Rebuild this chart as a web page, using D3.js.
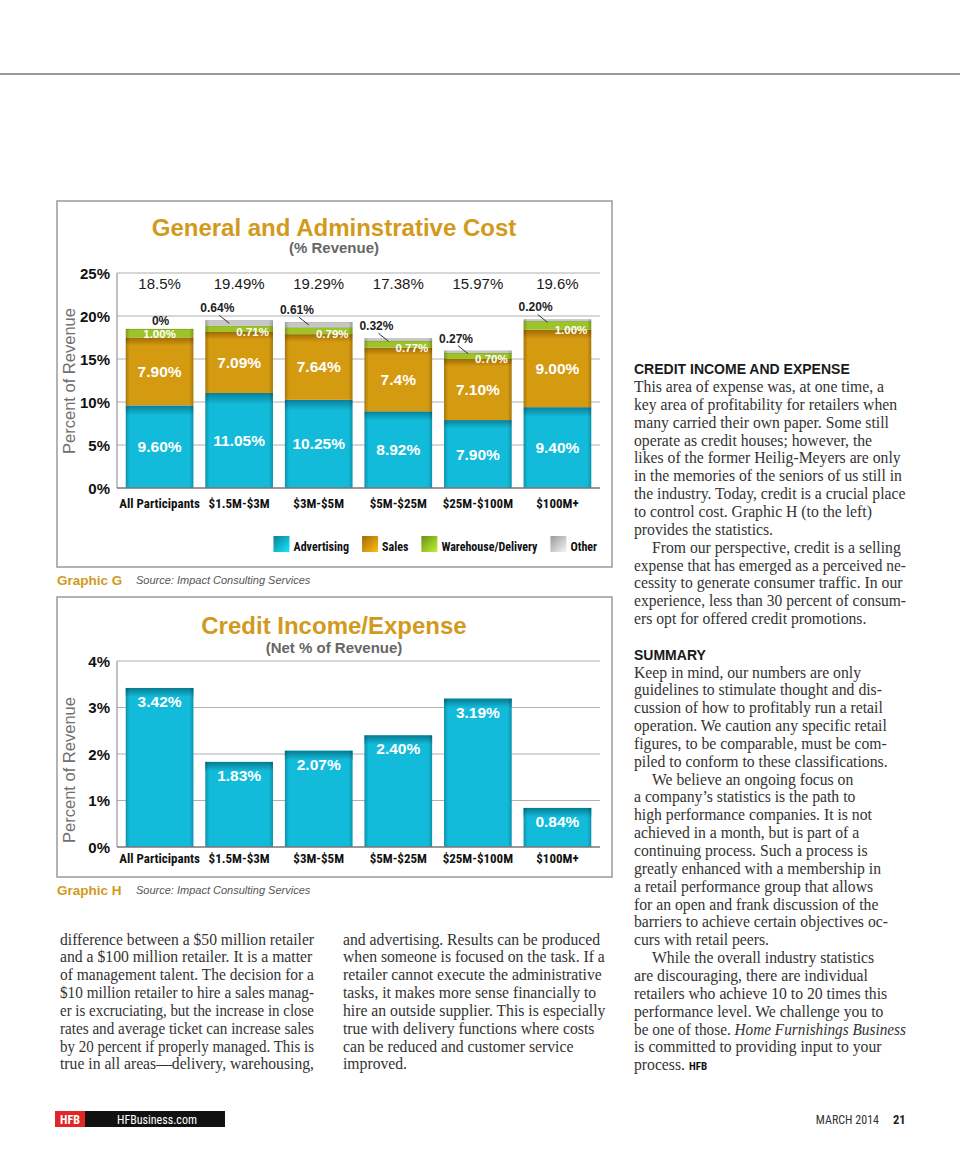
<!DOCTYPE html>
<html><head><meta charset="utf-8">
<script src="https://cdn.jsdelivr.net/npm/d3@7"></script>
<style>body{margin:0;background:#fff}svg{display:block}</style>
</head><body>
<script>
// ---------- DATA ----------
const categories = ["All Participants","$1.5M-$3M","$3M-$5M","$5M-$25M","$25M-$100M","$100M+"];
const seriesNames = ["Advertising","Sales","Warehouse/Delivery","Other"];
const advertising = [9.60, 11.05, 10.25, 8.92, 7.90, 9.40];
const sales       = [7.90, 7.09, 7.64, 7.4, 7.10, 9.00];
const warehouse   = [1.00, 0.71, 0.79, 0.77, 0.70, 1.00];
const other       = [0, 0.64, 0.61, 0.32, 0.27, 0.20];
const totals      = [18.5, 19.49, 19.29, 17.38, 15.97, 19.6];
const advLabels   = ["9.60%","11.05%","10.25%","8.92%","7.90%","9.40%"];
const salesLabels = ["7.90%","7.09%","7.64%","7.4%","7.10%","9.00%"];
const whLabels    = ["1.00%","0.71%","0.79%","0.77%","0.70%","1.00%"];
const otherLabels = ["0%","0.64%","0.61%","0.32%","0.27%","0.20%"];
const totalLabels = ["18.5%","19.49%","19.29%","17.38%","15.97%","19.6%"];
const gTicks = [0,5,10,15,20,25];
const credit = [3.42, 1.83, 2.07, 2.40, 3.19, 0.84];
const creditLabels = ["3.42%","1.83%","2.07%","2.40%","3.19%","0.84%"];
const hTicks = [0,1,2,3,4];

// ---------- TEXT ----------
const col1Lines = ["difference between a $50 million retailer","and a $100 million retailer. It is a matter","of management talent. The decision for a","$10 million retailer to hire a sales manag-","er is excruciating, but the increase in close","rates and average ticket can increase sales","by 20 percent if properly managed. This is","true in all areas\u2014delivery, warehousing,"];
const col2Lines = ["and advertising. Results can be produced","when someone is focused on the task. If a","retailer cannot execute the administrative","tasks, it makes more sense financially to","hire an outside supplier. This is especially","true with delivery functions where costs","can be reduced and customer service","improved."];
const creditLines = ["This area of expense was, at one time, a","key area of profitability for retailers when","many carried their own paper. Some still","operate as credit houses; however, the","likes of the former Heilig-Meyers are only","in the memories of the seniors of us still in","the industry. Today, credit is a crucial place","to control cost. Graphic H (to the left)","provides the statistics.","\tFrom our perspective, credit is a selling","expense that has emerged as a perceived ne-","cessity to generate consumer traffic. In our","experience, less than 30 percent of consum-","ers opt for offered credit promotions."];
const summaryLines = ["Keep in mind, our numbers are only","guidelines to stimulate thought and dis-","cussion of how to profitably run a retail","operation. We caution any specific retail","figures, to be comparable, must be com-","piled to conform to these classifications.","\tWe believe an ongoing focus on","a company\u2019s statistics is the path to","high performance companies. It is not","achieved in a month, but is part of a","continuing process. Such a process is","greatly enhanced with a membership in","a retail performance group that allows","for an open and frank discussion of the","barriers to achieve certain objectives oc-","curs with retail peers.","\tWhile the overall industry statistics","are discouraging, there are individual","retailers who achieve 10 to 20 times this","performance level. We challenge you to",[["be one of those. ",""],["Home Furnishings Business","italic"]],"is committed to providing input to your",[["process. ",""],["HFB","hfb"]]];

const SANS = "Arial, 'Liberation Sans', sans-serif";
const NARROW = "'Liberation Sans Narrow', 'Arial Narrow', 'Roboto Condensed', sans-serif";
const SERIF = "'Liberation Serif', 'Times New Roman', serif";
const GOLD = "#d29a1c";

const svg = d3.select("body").append("svg").attr("width",960).attr("height",1165);
const defs = svg.append("defs");

const colors = {
  Advertising: ["#0a8097","#12bbda"],
  Sales: ["#a06a06","#d49a10"],
  "Warehouse/Delivery": ["#6a9214","#9dc329"],
  Other: ["#999999","#c6c6c6"]
};
const gid = n => "g" + n.replace(/[^A-Za-z]/g,"");
seriesNames.forEach(n=>{
  const g = defs.append("linearGradient").attr("id",gid(n)).attr("x1",0).attr("y1",0).attr("x2",0).attr("y2",1);
  g.append("stop").attr("offset",0).attr("stop-color",colors[n][0]);
  g.append("stop").attr("offset",0.12).attr("stop-color",colors[n][1]);
  g.append("stop").attr("offset",1).attr("stop-color",colors[n][1]);
  const l = defs.append("linearGradient").attr("id",gid(n)+"L").attr("x1",0).attr("y1",0).attr("x2",1).attr("y2",1);
  l.append("stop").attr("offset",0).attr("stop-color",colors[n][0]);
  l.append("stop").attr("offset",1).attr("stop-color",d3.color(colors[n][1]).brighter(0.6));
});
const hg = defs.append("linearGradient").attr("id","hTop").attr("x1",0).attr("y1",0).attr("x2",0).attr("y2",1);
hg.append("stop").attr("offset",0).attr("stop-color","#077a90");
hg.append("stop").attr("offset",1).attr("stop-color","#12bbda");
const side = defs.append("linearGradient").attr("id","side").attr("x1",0).attr("y1",0).attr("x2",1).attr("y2",0);
[[0,0.22],[0.06,0],[0.94,0],[1,0.22]].forEach(([o,a])=>side.append("stop").attr("offset",o).attr("stop-color","#000").attr("stop-opacity",a));

// top rule
svg.append("line").attr("x1",0).attr("x2",960).attr("y1",74).attr("y2",74).attr("stroke","#9a9a9a").attr("stroke-width",2);

// ---------- CHART G ----------
svg.append("rect").attr("x",57).attr("y",201).attr("width",555).attr("height",366).attr("fill","none").attr("stroke","#9a9a9a").attr("stroke-width",1.5);
svg.append("text").attr("x",334).attr("y",236).attr("text-anchor","middle").attr("font-family",SANS).attr("font-weight","bold").attr("font-size",24).attr("fill",GOLD).text("General and Adminstrative Cost");
svg.append("text").attr("x",334).attr("y",253).attr("text-anchor","middle").attr("font-family",SANS).attr("font-weight","bold").attr("font-size",15).attr("fill","#666").text("(% Revenue)");

const x = d3.scaleBand().domain(categories).range([117,600]).paddingInner(0.15).paddingOuter(0.11);
const yG = d3.scaleLinear().domain([0,25]).range([488,273]);

const gG = svg.append("g");
gG.append("g").selectAll("line").data(gTicks.filter(t=>t>0)).join("line")
  .attr("x1",117).attr("x2",600).attr("y1",d=>yG(d)).attr("y2",d=>yG(d)).attr("stroke","#b0b0b0").attr("stroke-width",1.2);
gG.append("line").attr("x1",117).attr("x2",117).attr("y1",yG(25)).attr("y2",yG(0)).attr("stroke","#999").attr("stroke-width",1.2);
gG.append("g").selectAll("text").data(gTicks).join("text")
  .attr("x",110).attr("y",d=>yG(d)+5.5).attr("text-anchor","end").attr("font-family",SANS).attr("font-weight","bold").attr("font-size",15).attr("fill","#111").text(d=>d+"%");
svg.append("text").attr("transform","translate(75,381) rotate(-90)").attr("text-anchor","middle").attr("font-family",SANS).attr("font-size",16.5).attr("fill","#707070").text("Percent of Revenue");

const table = categories.map((c,i)=>({cat:c, Advertising:advertising[i], Sales:sales[i], "Warehouse/Delivery":warehouse[i], Other:other[i]}));
const stacked = d3.stack().keys(seriesNames)(table);
stacked.forEach(layer=>{
  gG.append("g").selectAll("rect").data(layer).join("rect")
    .attr("x",d=>x(d.data.cat)).attr("width",x.bandwidth())
    .attr("y",d=>yG(d[1])).attr("height",d=>Math.max(0,yG(d[0])-yG(d[1])))
    .attr("fill","url(#"+gid(layer.key)+")");
});
gG.append("g").selectAll("rect").data(stacked[3]).join("rect")
  .attr("x",d=>x(d.data.cat)).attr("width",x.bandwidth()).attr("y",d=>yG(d[1])).attr("height",d=>yG(0)-yG(d[1])).attr("fill","url(#side)");
gG.append("line").attr("x1",117).attr("x2",600).attr("y1",yG(0)).attr("y2",yG(0)).attr("stroke","#777").attr("stroke-width",1.5);

const lbl = (sel)=>sel.attr("font-family",SANS).attr("font-weight","bold").attr("text-anchor","middle");
lbl(gG.append("g").selectAll("text").data(stacked[0]).join("text"))
  .attr("x",d=>x(d.data.cat)+x.bandwidth()/2).attr("y",d=>yG((d[0]+d[1])/2)+5.5)
  .attr("font-size",15.5).attr("fill","#fff").text((d,i)=>advLabels[i]);
lbl(gG.append("g").selectAll("text").data(stacked[1]).join("text"))
  .attr("x",d=>x(d.data.cat)+x.bandwidth()/2).attr("y",d=>yG((d[0]+d[1])/2)+5.5)
  .attr("font-size",15.5).attr("fill","#fff").text((d,i)=>salesLabels[i]);
lbl(gG.append("g").selectAll("text").data(stacked[2]).join("text"))
  .attr("x",(d,i)=>other[i]===0 ? x(d.data.cat)+x.bandwidth()/2 : x(d.data.cat)+x.bandwidth()*0.7)
  .attr("y",(d,i)=>other[i]===0 ? yG((d[0]+d[1])/2)+5 : yG(d[0])+4)
  .attr("font-size",11.5).attr("fill","#fff").text((d,i)=>whLabels[i]);
stacked[3].forEach((d,i)=>{
  const x0 = x(d.data.cat), top = yG(d[1]);
  if (other[i]===0){
    gG.append("text").attr("x",x0+x.bandwidth()/2+1).attr("y",top-4).attr("text-anchor","middle").attr("font-family",SANS).attr("font-weight","bold").attr("font-size",12).attr("fill","#222").text(otherLabels[i]);
  } else {
    gG.append("text").attr("x",x0+12).attr("y",top-8).attr("text-anchor","middle").attr("font-family",SANS).attr("font-weight","bold").attr("font-size",12).attr("fill","#222").text(otherLabels[i]);
    gG.append("line").attr("x1",x0+14).attr("y1",top-5).attr("x2",x0+24).attr("y2",top+3).attr("stroke","#333").attr("stroke-width",1);
  }
});
gG.append("g").selectAll("text").data(totals).join("text")
  .attr("x",(d,i)=>x(categories[i])+x.bandwidth()/2).attr("y",yG(25)+16).attr("text-anchor","middle")
  .attr("font-family",SANS).attr("font-size",15).attr("fill","#1a1a1a").text((d,i)=>totalLabels[i]);
gG.append("g").selectAll("text").data(categories).join("text")
  .attr("x",d=>x(d)+x.bandwidth()/2).attr("y",yG(0)+20).attr("text-anchor","middle")
  .attr("font-family",NARROW).attr("font-weight","bold").attr("font-size",13).attr("fill","#111").text(d=>d);

// legend
const lg = svg.append("g");
const items = [];
seriesNames.forEach(n=>{
  const t = lg.append("text").attr("y",551).attr("font-family",NARROW).attr("font-weight","bold").attr("font-size",12).attr("fill","#111").text(n);
  items.push({n,t,w:t.node().getComputedTextLength()});
});
const total = items.reduce((s,it)=>s+16+4+it.w,0)+13*(items.length-1);
let lx = 597-total;
items.forEach(it=>{
  lg.append("rect").attr("x",lx).attr("y",536).attr("width",16).attr("height",16).attr("fill","url(#"+gid(it.n)+"L)");
  it.t.attr("x",lx+20);
  lx += 20+it.w+13;
});

svg.append("text").attr("x",57).attr("y",585).attr("font-family",SANS).attr("font-weight","bold").attr("font-size",13.5).attr("fill",GOLD).text("Graphic G");
svg.append("text").attr("x",136).attr("y",584).attr("font-family",SANS).attr("font-style","italic").attr("font-size",11).attr("fill","#555").text("Source: Impact Consulting Services");

// ---------- CHART H ----------
svg.append("rect").attr("x",57).attr("y",597).attr("width",555).attr("height",280).attr("fill","none").attr("stroke","#9a9a9a").attr("stroke-width",1.5);
svg.append("text").attr("x",334).attr("y",634).attr("text-anchor","middle").attr("font-family",SANS).attr("font-weight","bold").attr("font-size",24).attr("fill",GOLD).text("Credit Income/Expense");
svg.append("text").attr("x",334).attr("y",653).attr("text-anchor","middle").attr("font-family",SANS).attr("font-weight","bold").attr("font-size",15).attr("fill","#666").text("(Net % of Revenue)");

const yH = d3.scaleLinear().domain([0,4]).range([847,661]);
const gH = svg.append("g");
gH.append("g").selectAll("line").data(hTicks.filter(t=>t>0)).join("line")
  .attr("x1",117).attr("x2",600).attr("y1",d=>yH(d)).attr("y2",d=>yH(d)).attr("stroke","#b0b0b0").attr("stroke-width",1.2);
gH.append("line").attr("x1",117).attr("x2",117).attr("y1",yH(4)).attr("y2",yH(0)).attr("stroke","#999").attr("stroke-width",1.2);
gH.append("g").selectAll("text").data(hTicks).join("text")
  .attr("x",110).attr("y",d=>yH(d)+5.5).attr("text-anchor","end").attr("font-family",SANS).attr("font-weight","bold").attr("font-size",15).attr("fill","#111").text(d=>d+"%");
svg.append("text").attr("transform","translate(75,770) rotate(-90)").attr("text-anchor","middle").attr("font-family",SANS).attr("font-size",16.5).attr("fill","#707070").text("Percent of Revenue");

gH.append("g").selectAll("rect").data(credit).join("rect")
  .attr("x",(d,i)=>x(categories[i])).attr("width",x.bandwidth()).attr("y",d=>yH(d)).attr("height",d=>yH(0)-yH(d)).attr("fill","#12bbda");
gH.append("g").selectAll("rect").data(credit).join("rect")
  .attr("x",(d,i)=>x(categories[i])).attr("width",x.bandwidth()).attr("y",d=>yH(d)).attr("height",9).attr("fill","url(#hTop)");
gH.append("g").selectAll("rect").data(credit).join("rect")
  .attr("x",(d,i)=>x(categories[i])).attr("width",x.bandwidth()).attr("y",d=>yH(d)).attr("height",d=>yH(0)-yH(d)).attr("fill","url(#side)");
gH.append("line").attr("x1",117).attr("x2",600).attr("y1",yH(0)).attr("y2",yH(0)).attr("stroke","#777").attr("stroke-width",1.5);
lbl(gH.append("g").selectAll("text").data(credit).join("text"))
  .attr("x",(d,i)=>x(categories[i])+x.bandwidth()/2).attr("y",d=>yH(d)+19)
  .attr("font-size",15.5).attr("fill","#fff").text((d,i)=>creditLabels[i]);
gH.append("g").selectAll("text").data(categories).join("text")
  .attr("x",d=>x(d)+x.bandwidth()/2).attr("y",yH(0)+16).attr("text-anchor","middle")
  .attr("font-family",NARROW).attr("font-weight","bold").attr("font-size",13).attr("fill","#111").text(d=>d);

svg.append("text").attr("x",57).attr("y",895).attr("font-family",SANS).attr("font-weight","bold").attr("font-size",13.5).attr("fill",GOLD).text("Graphic H");
svg.append("text").attr("x",136).attr("y",894).attr("font-family",SANS).attr("font-style","italic").attr("font-size",11).attr("fill","#555").text("Source: Impact Consulting Services");

// ---------- BODY TEXT ----------
function drawLines(lines, x0, y0, colW){
  const LH = 17.85;
  lines.forEach((ln,i)=>{
    let indent = 0, segs;
    if (typeof ln === "string"){
      if (ln.startsWith("\t")){ indent = 18; ln = ln.slice(1); }
      segs = [[ln,""]];
    } else segs = ln;
    const t = svg.append("text").attr("x",x0+indent).attr("y",y0+i*LH).attr("font-family",SERIF).attr("font-size",15.7).attr("fill","#333");
    segs.forEach(([s,st])=>{
      const ts = t.append("tspan").text(s);
      if (st==="italic") ts.attr("font-style","italic");
      if (st==="hfb") ts.attr("font-family",NARROW).attr("font-weight","bold").attr("font-size",11).attr("fill","#111");
    });
    const w = t.node().getComputedTextLength();
    if (w > colW-indent) t.attr("textLength",colW-indent).attr("lengthAdjust","spacingAndGlyphs");
  });
}
drawLines(col1Lines, 60, 944.5, 254);
drawLines(col2Lines, 343, 944.5, 264);
svg.append("text").attr("x",634).attr("y",374).attr("font-family",SANS).attr("font-weight","bold").attr("font-size",14).attr("fill","#1a1a1a").text("CREDIT INCOME AND EXPENSE");
drawLines(creditLines, 634, 392, 272);
svg.append("text").attr("x",634).attr("y",660).attr("font-family",SANS).attr("font-weight","bold").attr("font-size",14).attr("fill","#1a1a1a").text("SUMMARY");
drawLines(summaryLines, 634, 677.5, 272);

// ---------- FOOTER ----------
svg.append("rect").attr("x",55).attr("y",1111).attr("width",30).attr("height",16).attr("fill","#e02626");
svg.append("rect").attr("x",85).attr("y",1111).attr("width",140).attr("height",16).attr("fill","#111");
svg.append("text").attr("x",70).attr("y",1123.5).attr("text-anchor","middle").attr("font-family",NARROW).attr("font-weight","bold").attr("font-size",12).attr("fill","#fff").text("HFB");
svg.append("text").attr("x",117).attr("y",1123.5).attr("font-family",NARROW).attr("font-size",12).attr("fill","#fff").text("HFBusiness.com");
svg.append("text").attr("x",879).attr("y",1123.5).attr("text-anchor","end").attr("font-family",NARROW).attr("font-size",12).attr("fill","#333").text("MARCH 2014");
svg.append("text").attr("x",893).attr("y",1123.5).attr("font-family",NARROW).attr("font-weight","bold").attr("font-size",12.5).attr("fill","#222").text("21");
</script>
</body></html>
